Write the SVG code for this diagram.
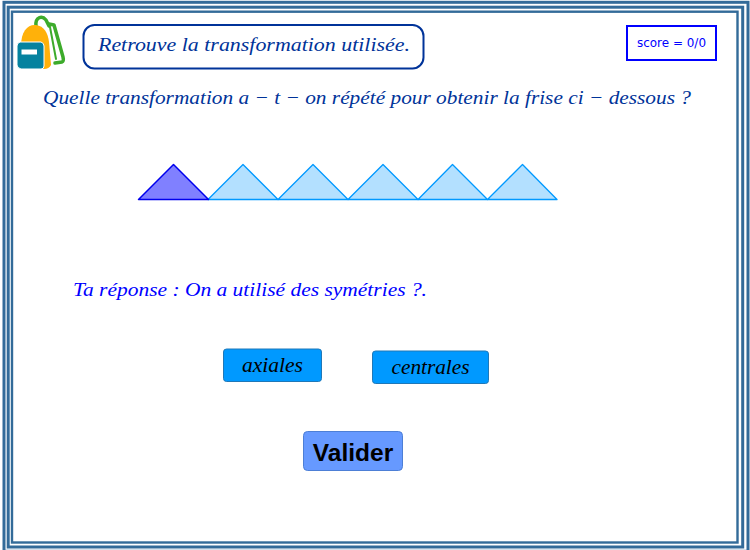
<svg xmlns="http://www.w3.org/2000/svg" width="750" height="550" viewBox="0 0 750 550">
<style>
.m{font-family:"Liberation Serif","Times New Roman",serif;font-style:italic}
.frame{fill:none;stroke:#336b99}
.tri{fill:#b3e0ff;stroke:#0099ff;stroke-width:1.300;stroke-linejoin:round}
.btn{fill:#0099ff;stroke:#1f78b8;stroke-width:1}
.strap{fill:none;stroke:#3dab2b;stroke-linecap:round;stroke-linejoin:round}
</style>
<rect width="750" height="550" fill="#fff"/>
<g id="frame">
<rect class="frame" x="4" y="2.300" width="744" height="549" stroke-width="3"/>
<rect class="frame" x="8.200" y="7.200" width="734.500" height="539.800" stroke-width="3"/>
<rect class="frame" x="12" y="11.700" width="725.500" height="530.800" stroke-width="2.400"/>
</g>
<g id="backpack">
<path class="strap" stroke-width="3.500" d="M36 26C35 17 42 15 46 20L49 26"/>
<path class="strap" stroke-width="3.500" d="M49 24L54 25L63 57Q64 61 62 62L55 63"/>
<path class="strap" stroke-width="2" d="M50 27L56 59"/>
<path d="M21 46C21 31 28 24 36 25C44 26 48 33 49 42L51 65Q49 69 44 69H22Z" fill="#ffb10a"/>
<path d="M20 42H41Q44 43 44 46V66Q44 69 41 69H21Q17 68 17 65V46Q17 43 20 42Z" fill="#05829f" stroke="#fff" stroke-width="1"/>
<rect x="21.500" y="49.500" width="15.500" height="5" fill="#fff"/>
</g>
<g id="title">
<rect x="83.500" y="25" width="340" height="43.500" rx="11" fill="#fff" stroke="#003399" stroke-width="2"/>
<text class="m" x="98" y="51" font-size="19" fill="#003399" textLength="312" lengthAdjust="spacingAndGlyphs">Retrouve la transformation utilisée.</text>
</g>
<g id="score">
<rect x="627" y="26" width="89" height="34" fill="#fff" stroke="#0000ff" stroke-width="2"/>
<text x="637" y="47" font-family="'DejaVu Sans','Liberation Sans',sans-serif" font-size="11.500" fill="#0000ff" textLength="69" lengthAdjust="spacingAndGlyphs">score = 0/0</text>
</g>
<g id="question">
<text class="m" x="43" y="104" font-size="19" fill="#003399" textLength="648" lengthAdjust="spacingAndGlyphs">Quelle transformation a − t − on répété pour obtenir la frise ci − dessous ?</text>
</g>
<g id="frieze">
<polygon class="tri" points="208,199.500 243,164.500 278,199.500"/>
<polygon class="tri" points="278,199.500 313,164.500 348,199.500"/>
<polygon class="tri" points="348,199.500 383,164.500 418,199.500"/>
<polygon class="tri" points="418,199.500 452.500,164.500 487.500,199.500"/>
<polygon class="tri" points="487.500,199.500 522.500,164.500 557,199.500"/>
<polygon points="138.500,199.500 173.500,164.500 208.500,199.500" fill="#8080ff" stroke="#0000ee" stroke-width="1.500" stroke-linejoin="round"/>
</g>
<g id="answer">
<text class="m" x="73" y="296" font-size="19" fill="#0000ff" textLength="354" lengthAdjust="spacingAndGlyphs">Ta réponse : On a utilisé des symétries ?.</text>
</g>
<g id="axiales">
<rect class="btn" x="223.500" y="349" width="98" height="32.500" rx="3"/>
<text class="m" x="242" y="371.500" font-size="20" fill="#000" textLength="61" lengthAdjust="spacingAndGlyphs">axiales</text>
</g>
<g id="centrales">
<rect class="btn" x="372.500" y="351" width="116" height="32.500" rx="3"/>
<text class="m" x="391.500" y="373.500" font-size="20" fill="#000" textLength="78" lengthAdjust="spacingAndGlyphs">centrales</text>
</g>
<g id="valider">
<rect x="303.500" y="431.500" width="99" height="39" rx="4" fill="#6699ff" stroke="#4d7fd6" stroke-width="1"/>
<text x="353" y="461" text-anchor="middle" font-family="'Liberation Sans',Arial,sans-serif" font-weight="700" font-size="24.500" fill="#000">Valider</text>
</g>
</svg>
